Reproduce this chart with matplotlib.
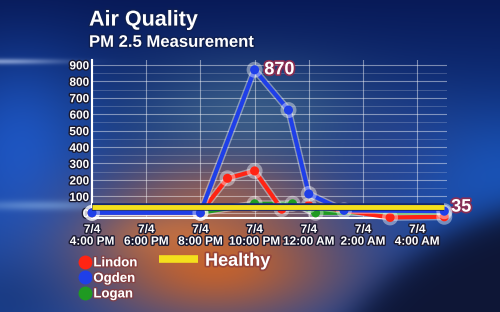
import numpy as np
import matplotlib
matplotlib.use('Agg')
import matplotlib.pyplot as plt
import matplotlib.patheffects as pe
from matplotlib.lines import Line2D

plt.rcParams['font.family'] = ['Liberation Sans', 'DejaVu Sans']
plt.rcParams['font.weight'] = 'bold'

# hours after 7/4 4:00 PM
tick_hours = [0, 2, 4, 6, 8, 10, 12]
tick_labels = ['7/4\n4:00 PM', '7/4\n6:00 PM', '7/4\n8:00 PM', '7/4\n10:00 PM',
               '7/4\n12:00 AM', '7/4\n2:00 AM', '7/4\n4:00 AM']

lindon_x = [0, 4, 5, 6, 7, 8, 11, 13]
lindon_y = [0, 0, 210, 255, 22, 45, -28, -24]

ogden_x = [0, 4, 6, 7.25, 8, 9.3, 13]
ogden_y = [0, 0, 870, 625, 115, 15, 10]

logan_x = [0, 4, 6, 7.4, 8.25, 13]
logan_y = [0, 0, 55, 55, 0, 0]

healthy = 35
peak = 870

# ---- background (TV graphic style gradient)
H, W = 312, 500
yy, xx = np.mgrid[0:H, 0:W].astype(float)

def hexrgb(h):
    return np.array([int(h[i:i + 2], 16) for i in (1, 3, 5)]) / 255.0

def blob(cx, cy, sx, sy):
    return np.exp(-(((xx - cx) / sx) ** 2 + ((yy - cy) / sy) ** 2))[..., None]

def mix(img, col, w):
    return img * (1 - w) + hexrgb(col) * w

top, bot = hexrgb('#081a58'), hexrgb('#1846a0')
t = np.clip(yy / 220, 0, 1)[..., None]
img = top * (1 - t) + bot * t
img = mix(img, '#1f5cd0', 0.8 * blob(20, 150, 70, 90))
img = mix(img, '#1a58c0', 0.8 * blob(500, 180, 110, 70))
img = mix(img, '#44688a', 0.75 * blob(250, 115, 120, 55))
img = mix(img, '#9a6458', 0.75 * blob(215, 195, 110, 40))
img = mix(img, '#c8622a', 0.95 * blob(215, 265, 130, 60))
img = mix(img, '#dc7c3c', 0.55 * blob(170, 235, 70, 25))
d = np.sqrt((xx - 600) ** 2 + ((yy - 470) * 1.1) ** 2)
img = mix(img, '#0e1636', (1 / (1 + np.exp((d - 300) / 10)))[..., None])
img = mix(img, '#34448c', 0.4 * blob(390, 150, 60, 50))
img = mix(img, '#14306e', 0.5 * blob(0, 300, 70, 40))
img = mix(img, '#8ab4e8', 0.5 * blob(40, 205, 70, 5))
img = mix(img, '#d0e0ff', 0.55 * blob(0, 61, 60, 3))
img = np.clip(img, 0, 1)

fig = plt.figure(figsize=(5, 3.12), dpi=100)
bg = fig.add_axes([0, 0, 1, 1])
bg.imshow(img, aspect='auto', interpolation='bilinear')
bg.axis('off')

ax = fig.add_axes([0.184, 0.301, 0.71, 0.507])
ax.patch.set_alpha(0)

glow = lambda lw: [pe.Stroke(linewidth=lw + 2, foreground='white', alpha=0.4), pe.Normal()]

ax.plot(logan_x, logan_y, color='#1f9a22', lw=3, marker='o', ms=6.5, mew=0,
        path_effects=glow(3), zorder=4, clip_on=False)
ax.plot(lindon_x, lindon_y, color='#ff2414', lw=3, marker='o', ms=6.5, mew=0,
        path_effects=glow(3), zorder=5, clip_on=False)
ax.plot(ogden_x, ogden_y, color='#1f3fe8', lw=3, marker='o', ms=6.5, mew=0,
        path_effects=glow(3), zorder=6, clip_on=False)
ax.plot([0, 13], [healthy, healthy], color='#f4e01c', lw=3.5, zorder=7,
        solid_capstyle='butt', clip_on=False,
        path_effects=[pe.Stroke(linewidth=5.5, foreground='#16286a'), pe.Normal()])

ax.set_xlim(0, 13.1)
ax.set_ylim(-32, 930)
ax.set_yticks(np.arange(0, 901, 100))
ax.set_yticks(np.arange(50, 901, 100), minor=True)
ax.set_xticks(tick_hours)
ax.set_xticklabels(tick_labels, linespacing=1.0)
ax.grid(True, which='major', color='white', lw=0.8, alpha=0.45)
ax.grid(True, which='minor', axis='y', color='white', lw=0.6, alpha=0.22)
ax.tick_params(length=0, labelsize=8.5, labelcolor='white', pad=2)
ax.tick_params(axis='x', pad=4)
ax.tick_params(which='minor', length=0)
for s in ['top', 'right']:
    ax.spines[s].set_visible(False)
for s in ['left', 'bottom']:
    ax.spines[s].set_color('white')
    ax.spines[s].set_linewidth(1.5)

dark = [pe.withStroke(linewidth=2, foreground='#1a1a30')]
for lab in ax.get_xticklabels() + ax.get_yticklabels():
    lab.set_fontweight('bold')
    lab.set_path_effects(dark)

pink = [pe.withStroke(linewidth=2.5, foreground='#9a2a4a', alpha=0.85)]
ax.annotate(str(peak), xy=(6, peak), xytext=(7, 0), textcoords='offset points',
            ha='left', va='center', fontsize=13, fontweight='bold', color='white',
            path_effects=pink, zorder=10)
ax.annotate(str(healthy), xy=(1, healthy), xycoords=('axes fraction', 'data'),
            xytext=(3, 0), textcoords='offset points', ha='left', va='center',
            fontsize=13, fontweight='bold', color='white', path_effects=pink)

fig.text(0.178, 0.918, 'Air Quality', fontsize=15.5, fontweight='bold', color='white',
         path_effects=[pe.withStroke(linewidth=2, foreground='#102050')])
fig.text(0.178, 0.85, 'PM 2.5 Measurement', fontsize=12, fontweight='bold',
         color='white', path_effects=[pe.withStroke(linewidth=2, foreground='#102050')])

# legend
handles = [Line2D([], [], color=c, marker='o', ms=9, lw=0) for c in
           ['#ff2414', '#1f3fe8', '#1f9a22']]
leg = fig.legend(handles, ['Lindon', 'Ogden', 'Logan'], loc='upper left',
                 bbox_to_anchor=(0.163, 0.176), frameon=False, fontsize=9.5,
                 handlelength=0.6, handletextpad=0.3, labelspacing=0.25,
                 borderpad=0, borderaxespad=0)
for txt in leg.get_texts():
    txt.set_color('white')
    txt.set_fontweight('bold')
    txt.set_path_effects([pe.withStroke(linewidth=2, foreground='#8a3a3a', alpha=0.7)])
leg2 = fig.legend([Line2D([], [], color='#f4e01c', lw=5.5, solid_capstyle='butt')],
                  ['Healthy'], loc='upper left', bbox_to_anchor=(0.318, 0.19),
                  frameon=False, fontsize=13, handlelength=2.15, handletextpad=0.4,
                  borderpad=0, borderaxespad=0)
for txt in leg2.get_texts():
    txt.set_color('white')
    txt.set_fontweight('bold')
    txt.set_path_effects([pe.withStroke(linewidth=2.5, foreground='#8a3a3a', alpha=0.7)])

fig.savefig('out.png', dpi=100)
